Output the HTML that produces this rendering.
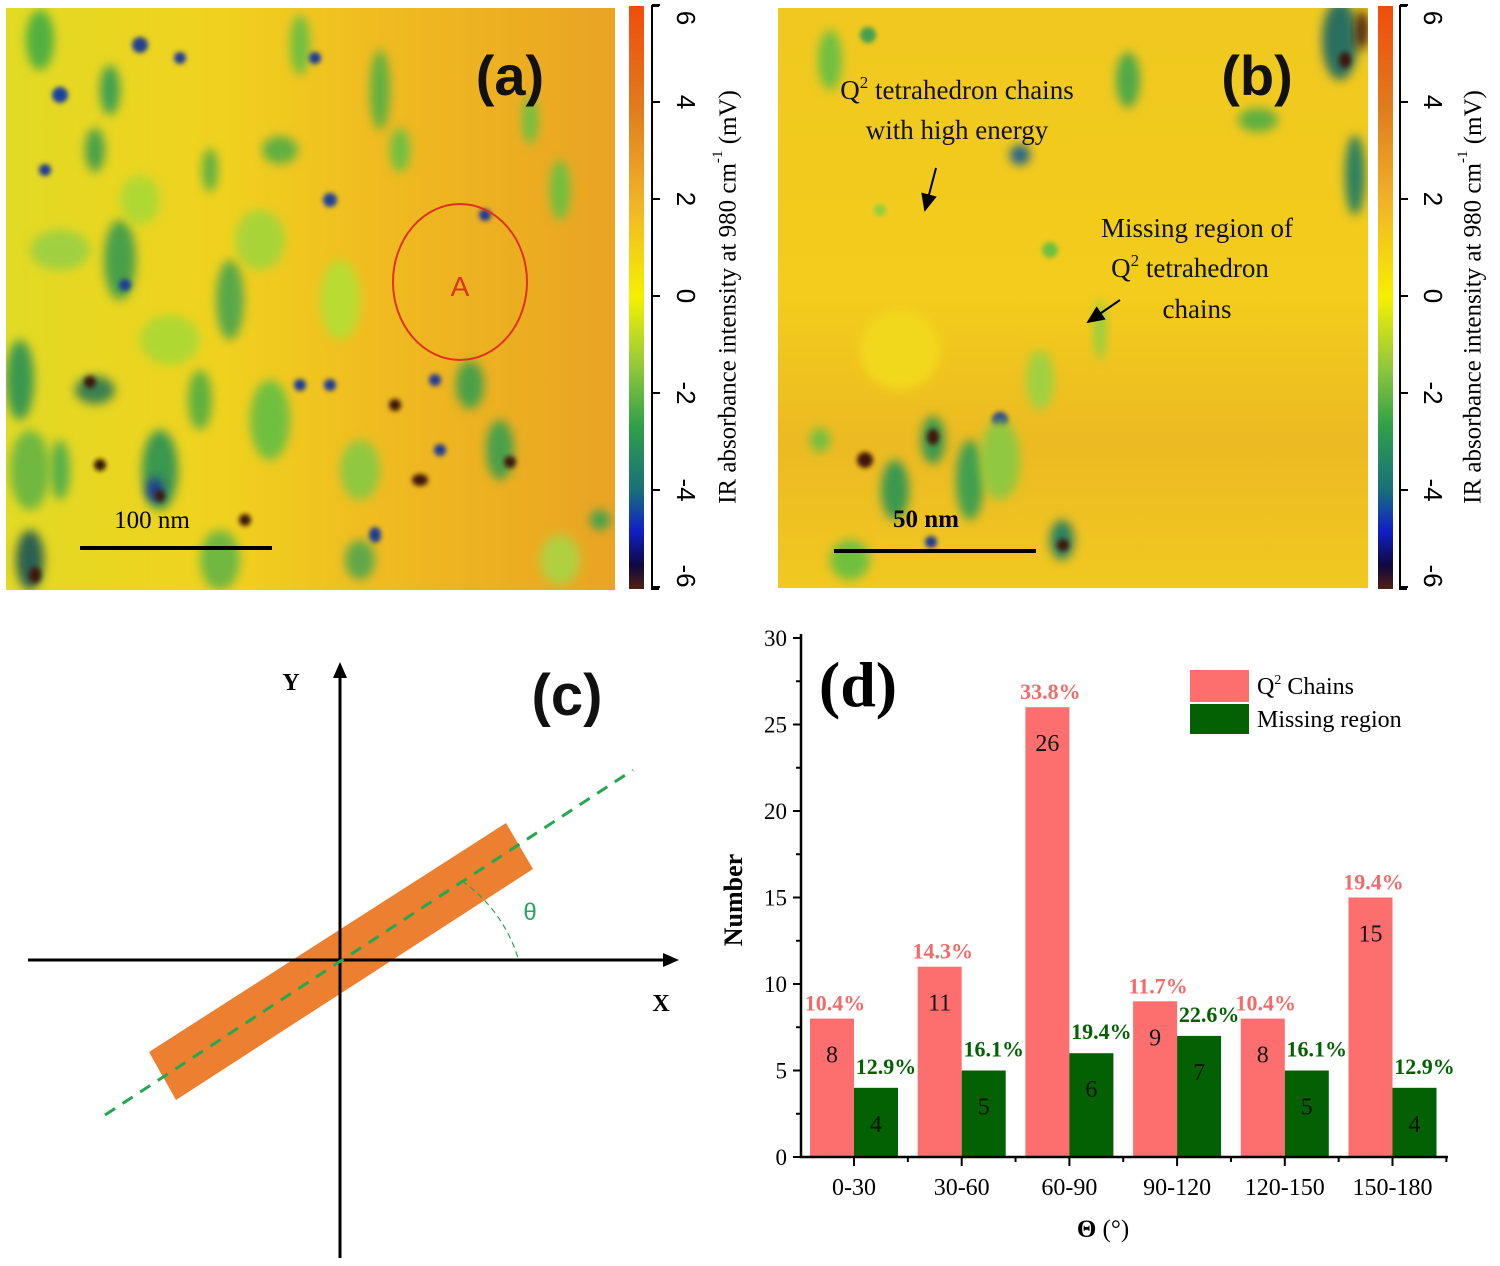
<!DOCTYPE html>
<html><head><meta charset="utf-8"><style>
html,body{margin:0;padding:0;background:#fff;}
svg{display:block;font-family:"Liberation Serif",serif;}
</style></head><body>
<svg id="fig" width="1500" height="1266" viewBox="0 0 1500 1266" xmlns="http://www.w3.org/2000/svg">
<defs>
<linearGradient id="mapA" x1="0" y1="0" x2="1" y2="0">
<stop offset="0" stop-color="#e2da24"/><stop offset="0.35" stop-color="#f0d21e"/><stop offset="0.6" stop-color="#f0bc20"/><stop offset="1" stop-color="#e9a422"/></linearGradient>
<linearGradient id="mapB" x1="0" y1="0" x2="0" y2="1">
<stop offset="0" stop-color="#f0c820"/><stop offset="0.5" stop-color="#f3cc1c"/><stop offset="0.75" stop-color="#ecba22"/><stop offset="1" stop-color="#f1c820"/></linearGradient>
<linearGradient id="cbar" x1="0" y1="0" x2="0" y2="1">
<stop offset="0" stop-color="#f24c0c"/><stop offset="0.17" stop-color="#e07a1c"/><stop offset="0.33" stop-color="#f0b028"/><stop offset="0.5" stop-color="#f6f000"/><stop offset="0.62" stop-color="#90c83c"/><stop offset="0.72" stop-color="#30a048"/><stop offset="0.83" stop-color="#18707a"/><stop offset="0.9" stop-color="#1020c8"/><stop offset="0.96" stop-color="#100840"/><stop offset="1" stop-color="#502010"/></linearGradient>
<filter id="blur" x="-50%" y="-50%" width="200%" height="200%"><feGaussianBlur stdDeviation="5"/></filter>
<filter id="blur2" x="-50%" y="-50%" width="200%" height="200%"><feGaussianBlur stdDeviation="2.5"/></filter>
<clipPath id="clipA"><rect x="6" y="8" width="609" height="582"/></clipPath>
<clipPath id="clipB"><rect x="778" y="8" width="590" height="580"/></clipPath>
<marker id="arr" markerWidth="10" markerHeight="10" refX="8" refY="5" orient="auto"><path d="M0,1 L9,5 L0,9 Z" fill="#000"/></marker>
</defs>

<g>
<rect x="6" y="8" width="609" height="582" fill="url(#mapA)"/>
<g clip-path="url(#clipA)" id="blobsA"></g>
</g>
<text x="510" y="95" font-family="Liberation Sans, sans-serif" font-weight="bold" font-size="56" text-anchor="middle" fill="#111">(a)</text>
<ellipse cx="460" cy="282" rx="67" ry="78" fill="none" stroke="#e03020" stroke-width="2"/>
<text x="460" y="296" font-family="Liberation Sans, sans-serif" font-size="28" text-anchor="middle" fill="#e03020">A</text>
<line x1="80" y1="548" x2="272" y2="548" stroke="#000" stroke-width="4"/>
<text x="152" y="528" font-size="25" text-anchor="middle">100 nm</text>

<g id="cbA"></g>

<g>
<rect x="778" y="8" width="590" height="580" fill="url(#mapB)"/>
<g clip-path="url(#clipB)" id="blobsB"></g>
</g>
<text x="1257" y="95" font-family="Liberation Sans, sans-serif" font-weight="bold" font-size="56" text-anchor="middle" fill="#111">(b)</text>
<g font-size="27" text-anchor="middle" fill="#111">
<text x="957" y="99">Q<tspan font-size="17" dy="-11">2</tspan><tspan dy="11"> tetrahedron chains</tspan></text>
<text x="957" y="139">with high energy</text>
</g>
<line x1="936" y1="168" x2="925" y2="210" stroke="#000" stroke-width="2" marker-end="url(#arr)"/>
<g font-size="27" text-anchor="middle" fill="#111">
<text x="1197" y="237">Missing region of</text>
<text x="1190" y="277">Q<tspan font-size="17" dy="-11">2</tspan><tspan dy="11"> tetrahedron</tspan></text>
<text x="1197" y="318">chains</text>
</g>
<line x1="1120" y1="300" x2="1088" y2="322" stroke="#000" stroke-width="2" marker-end="url(#arr)"/>
<line x1="834" y1="551" x2="1036" y2="551" stroke="#000" stroke-width="4"/>
<text x="926" y="527" font-size="25" font-weight="bold" text-anchor="middle">50 nm</text>

<g id="cbB"></g>

<g>
<polygon points="149,1052 176,1100 533,869 506,823" fill="#ec8030"/>
<line x1="28" y1="960" x2="670" y2="960" stroke="#000" stroke-width="3"/>
<polygon points="679,960 663,953 663,967" fill="#000"/>
<line x1="340" y1="1258" x2="340" y2="672" stroke="#000" stroke-width="3"/>
<polygon points="340,662 333,678 347,678" fill="#000"/>
<line x1="105" y1="1115" x2="633" y2="770" stroke="#22a850" stroke-width="3" stroke-dasharray="12,9"/>
<path d="M 462 881 A 146 146 0 0 1 518 958" fill="none" stroke="#22a850" stroke-width="1.2" stroke-dasharray="6,4"/>
<text x="530" y="920" font-family="Liberation Sans, sans-serif" font-size="24" fill="#22a860" text-anchor="middle">θ</text>
<text x="291" y="690" font-size="24" font-weight="bold" text-anchor="middle">Y</text>
<text x="661" y="1011" font-size="24" font-weight="bold" text-anchor="middle">X</text>
<text x="567" y="715" font-family="Liberation Sans, sans-serif" font-weight="bold" font-size="58" text-anchor="middle" fill="#111">(c)</text>
</g>

<g id="chartD"></g>
</svg>

<script>
const NS = "http://www.w3.org/2000/svg";
function mk(tag, attrs, parent, text) {
  const e = document.createElementNS(NS, tag);
  for (const k in attrs) e.setAttribute(k, attrs[k]);
  if (text !== undefined) e.textContent = text;
  parent.appendChild(e);
  return e;
}

const blobsA = [
 [40,40,14,30,"#50b040"],[110,90,10,25,"#40a050"],[60,95,8,8,"#1840a0"],[140,45,8,8,"#204090"],[180,58,6,6,"#1a3c98"],
 [95,150,10,22,"#48a048"],[45,170,6,6,"#1a3a98"],[120,260,16,40,"#48a048"],[125,285,6,6,"#1a3a98"],[210,170,8,22,"#60b040"],
 [300,45,10,30,"#70c040"],[315,58,6,6,"#1a3a98"],[280,150,18,14,"#60b040"],[330,200,7,7,"#1a4098"],[400,150,10,22,"#70c040"],
 [230,300,14,40,"#58a848"],[20,380,14,40,"#3a9850"],[95,390,20,14,"#3a8050"],[90,382,6,6,"#3a1810"],[160,470,18,40,"#3a9850"],
 [155,490,8,12,"#1a3098"],[160,496,5,6,"#401810"],[100,465,6,6,"#301810"],[245,520,6,6,"#401810"],[30,560,14,30,"#2a6050"],
 [35,575,6,8,"#401810"],[300,385,6,6,"#1a3a98"],[330,385,6,6,"#1a3a98"],[395,405,6,6,"#3a1810"],[435,380,6,6,"#1a3a98"],
 [470,385,14,24,"#48a048"],[500,450,14,30,"#48a048"],[510,462,6,6,"#401810"],[440,450,6,6,"#1a3a98"],[420,480,8,6,"#401810"],
 [375,535,6,8,"#1a3a98"],[270,420,20,40,"#70c040"],[560,190,10,30,"#70c040"],[600,520,10,10,"#40a050"],[485,215,6,6,"#1a3a98"],
 [530,120,8,24,"#70c040"],[60,470,10,30,"#58b048"],[380,90,10,40,"#60b040"],[200,400,12,30,"#60b040"],
 [60,250,30,20,"#a0d040"],[170,340,30,25,"#b0d830"],[260,240,25,30,"#a8d438"],[340,300,20,40,"#b8dc30"],[30,470,20,40,"#70b840"],
 [360,470,20,30,"#90c840"],[560,560,20,25,"#b0d040"],[220,560,20,30,"#70b840"],[140,200,20,25,"#b0d830"],[360,560,15,20,"#60a848"]
];
const blobsB = [
 [830,60,12,30,"#70c040"],[868,35,8,8,"#40a050"],[1020,155,10,10,"#1a6090"],[1128,80,12,28,"#50a848"],[1340,40,18,40,"#2a7060"],
 [1345,60,6,8,"#401810"],[1362,30,6,20,"#401810"],[1355,175,10,40,"#2a8060"],[1258,120,20,12,"#60b040"],[895,490,14,30,"#3a9850"],
 [933,440,12,24,"#3a9850"],[933,437,6,8,"#401810"],[865,460,8,8,"#401810"],[1000,420,8,8,"#1a3a98"],[970,480,14,40,"#40a050"],
 [1062,540,12,20,"#2a8060"],[1063,545,6,6,"#401810"],[931,542,6,6,"#1a3a98"],[850,560,20,20,"#70c040"],[1100,330,6,30,"#90d040"],
 [880,210,6,6,"#90d040"],[1050,250,8,8,"#70c040"],[1040,380,14,30,"#a0d040"],[820,440,10,12,"#70c040"],
 [900,350,40,40,"#f2d81c"],[1000,460,20,40,"#90c840"]
];
const gA = document.getElementById("blobsA");
const gB = document.getElementById("blobsB");
[[gA, blobsA], [gB, blobsB]].forEach(([g, list]) => {
  list.forEach(b => {
    const small = b[2] < 9 && b[3] < 9;
    const el = mk("ellipse", {cx:b[0], cy:b[1], rx:b[2], ry:b[3], fill:b[4], filter: small ? "url(#blur2)" : "url(#blur)"}, g);
    
    
  });
});

const cbTicks = [6, 4, 2, 0, -2, -4, -6];
function colorbar(gid, x0, axisX, labelX, titleX) {
  const g = document.getElementById(gid);
  const yv = v => 296 - v * 48.5;
  mk("rect", {x:x0, y:6, width:15, height:583, fill:"url(#cbar)"}, g);
  mk("line", {x1:axisX, y1:6, x2:axisX, y2:589, stroke:"#000", "stroke-width":2}, g);
  mk("line", {x1:axisX-1, y1:6, x2:axisX+7, y2:6, stroke:"#000", "stroke-width":2}, g);
  mk("line", {x1:axisX-1, y1:589, x2:axisX+7, y2:589, stroke:"#000", "stroke-width":2}, g);
  cbTicks.forEach(v => {
    const y = yv(v);
    mk("line", {x1:axisX, y1:y, x2:axisX+8, y2:y, stroke:"#000", "stroke-width":2}, g);
    const ly = Math.min(Math.max(y, 18), 576);
    const t = mk("text", {x:labelX, y:ly, transform:`rotate(90 ${labelX} ${ly})`, "text-anchor":"middle", "dominant-baseline":"central", "font-family":"Liberation Sans, sans-serif", "font-size":26}, g, String(v));
    
    
  });
  const tt = mk("text", {x:titleX, y:297, transform:`rotate(-90 ${titleX} 297)`, "text-anchor":"middle", "dominant-baseline":"central", "font-size":25}, g);
  
  
  tt.innerHTML = 'IR absorbance intensity at 980 cm<tspan font-size="15" dy="-10">-1</tspan><tspan dy="10"> (mV)</tspan>';
}
colorbar("cbA", 629, 652, 686, 728);
colorbar("cbB", 1378, 1400, 1433, 1473);

const categories = ["0-30", "30-60", "60-90", "90-120", "120-150", "150-180"];
const q2Values = [8, 11, 26, 9, 8, 15];
const missingValues = [4, 5, 6, 7, 5, 4];
const q2Pct = ["10.4%", "14.3%", "33.8%", "11.7%", "10.4%", "19.4%"];
const missingPct = ["12.9%", "16.1%", "19.4%", "22.6%", "16.1%", "12.9%"];
const yTicks = [0, 5, 10, 15, 20, 25, 30];

const D = document.getElementById("chartD");
const X0 = 801, XEND = 1448, Y0 = 1157, PXU = 17.3;
const yS = v => Y0 - v * PXU;
const xC = i => 854 + i * 107.7;
const BW = 44;
const PINK = "#fd6e6e", GREEN = "#036103";

categories.forEach((c, i) => {
  const cx = xC(i);
  const top1 = yS(q2Values[i]);
  const b1 = mk("rect", {x:cx-BW, y:top1, width:BW, height:Y0-top1, fill:PINK}, D);
  
  
  const top2 = yS(missingValues[i]);
  const b2 = mk("rect", {x:cx, y:top2, width:BW, height:Y0-top2, fill:GREEN}, D);
  
  
  const v1 = mk("text", {x:cx-BW/2, y:top1+44, "text-anchor":"middle", "font-size":24, fill:"#111"}, D, String(q2Values[i]));
  
  
  const v2 = mk("text", {x:cx+BW/2, y:top2+44, "text-anchor":"middle", "font-size":24, fill:"#111"}, D, String(missingValues[i]));
  
  
  const p1 = mk("text", {x:cx-BW/2+3, y:top1-8, "text-anchor":"middle", "font-size":22, "font-weight":"bold", fill:"#f26a6a"}, D, q2Pct[i]);
  
  
  const p2 = mk("text", {x:cx+BW/2+10, y:top2-14, "text-anchor":"middle", "font-size":22, "font-weight":"bold", fill:GREEN}, D, missingPct[i]);
  
  
  mk("line", {x1:cx, y1:Y0, x2:cx, y2:Y0+9, stroke:"#000", "stroke-width":2}, D);
  mk("line", {x1:cx+53.85, y1:Y0, x2:cx+53.85, y2:Y0+5, stroke:"#000", "stroke-width":2}, D);
  const tl = mk("text", {x:cx, y:1195, "text-anchor":"middle", "font-size":24}, D, c);
  
  
});
mk("line", {x1:X0, y1:634, x2:X0, y2:Y0+1, stroke:"#000", "stroke-width":2.5}, D);
mk("line", {x1:X0-1, y1:Y0, x2:XEND, y2:Y0, stroke:"#000", "stroke-width":2.5}, D);
for (let v = 0; v <= 30; v += 2.5) {
  const y = yS(v);
  const major = v % 5 === 0;
  mk("line", {x1:X0 - (major ? 8 : 5), y1:y, x2:X0, y2:y, stroke:"#000", "stroke-width":2}, D);
}
yTicks.forEach(v => {
  const t = mk("text", {x:787, y:yS(v)+8, "text-anchor":"end", "font-size":23}, D, String(v));
  
  
});
const yt = mk("text", {x:742, y:900, transform:"rotate(-90 742 900)", "text-anchor":"middle", "font-size":26, "font-weight":"bold"}, D, "Number");


const xt = mk("text", {x:1103, y:1237, "text-anchor":"middle", "font-size":25, "font-weight":"bold"}, D);


xt.innerHTML = 'Θ <tspan font-weight="normal">(°)</tspan>';
const dl = mk("text", {x:858, y:706, "text-anchor":"middle", "font-size":64, "font-weight":"bold"}, D, "(d)");


const lg = mk("g", {}, D);


mk("rect", {x:1190, y:670, width:59, height:32, fill:PINK}, lg);
mk("rect", {x:1190, y:704, width:59, height:30, fill:GREEN}, lg);
const l1 = mk("text", {x:1257, y:694, "font-size":24}, lg);


l1.innerHTML = 'Q<tspan font-size="14" dy="-10">2</tspan><tspan dy="10"> Chains</tspan>';
const l2 = mk("text", {x:1257, y:727, "font-size":24}, lg, "Missing region");


</script>
</body></html>
